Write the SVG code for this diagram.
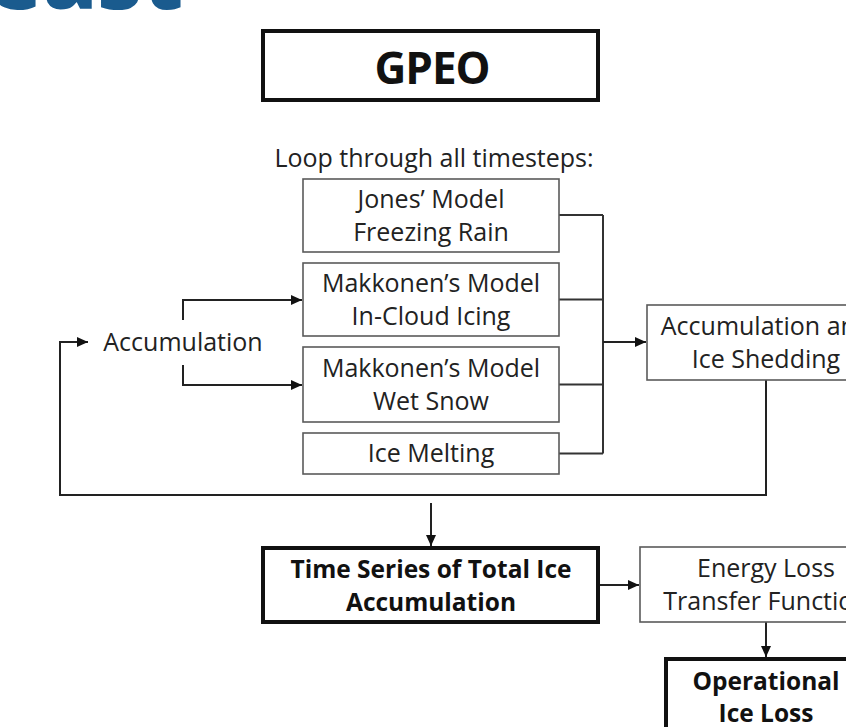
<svg xmlns="http://www.w3.org/2000/svg" width="846" height="727" viewBox="0 0 846 727">
<style>
  .t{font-family:"Open Sans","Liberation Sans",sans-serif;font-size:25px;fill:#222;text-anchor:middle}
  .b{font-weight:bold;fill:#111;font-size:24.5px}
  .box{fill:#fff;stroke:#5a5a5a;stroke-width:1.6}
  .thick{fill:#fff;stroke:#111;stroke-width:4}
  .c{fill:none;stroke:#333;stroke-width:2}
  .ca{fill:none;stroke:#222;stroke-width:2;marker-end:url(#ah)}
</style>
<defs>
  <marker id="ah" markerUnits="userSpaceOnUse" markerWidth="12" markerHeight="10" refX="11" refY="5" orient="auto">
    <path d="M0,0 L11,5 L0,10 Z" fill="#111"/>
  </marker>
</defs>
<rect width="846" height="727" fill="#fff"/>
<text x="-12" y="9" style="font-family:'Open Sans','Liberation Sans',sans-serif;font-weight:800;font-size:88px;fill:#1a5b8e">east</text>

<g id="connectors">
  <path class="c" d="M559,215 H603 M559,299.5 H603 M559,384.5 H603 M559,453.5 H603 M603,215 V453.5"/>
  <path class="ca" d="M603,342 H646"/>
  <path class="ca" d="M766,380 V495 H60 V342 H88"/>
  <path class="ca" d="M183,320 V300 H302"/>
  <path class="ca" d="M183,365 V385 H302"/>
  <path class="ca" d="M431,503 V546"/>
  <path class="ca" d="M598,585 H639"/>
  <path class="ca" d="M766,622 V657"/>
</g>

<g id="gpeo">
  <rect class="thick" x="263" y="31" width="335" height="69" stroke-width="3.5"/>
  <text class="t b" x="432" y="84" style="font-size:44px;letter-spacing:-1px">GPEO</text>
</g>
<g id="loop-label">
  <text class="t" x="434" y="167">Loop through all timesteps:</text>
</g>
<g id="jones">
  <rect class="box" x="303" y="179" width="256" height="73"/>
  <text class="t" x="431" y="208">Jones’ Model</text>
  <text class="t" x="431" y="241">Freezing Rain</text>
</g>
<g id="makkonen-cloud">
  <rect class="box" x="303" y="263" width="256" height="73"/>
  <text class="t" x="431" y="292">Makkonen’s Model</text>
  <text class="t" x="431" y="325">In-Cloud Icing</text>
</g>
<g id="makkonen-snow">
  <rect class="box" x="303" y="347" width="256" height="75"/>
  <text class="t" x="431" y="377">Makkonen’s Model</text>
  <text class="t" x="431" y="410">Wet Snow</text>
</g>
<g id="ice-melting">
  <rect class="box" x="303" y="433" width="256" height="41"/>
  <text class="t" x="431" y="462">Ice Melting</text>
</g>
<g id="accumulation">
  <text class="t" x="183" y="351">Accumulation</text>
</g>
<g id="acc-shedding">
  <rect class="box" x="647" y="305" width="238" height="75"/>
  <text class="t" x="766" y="335">Accumulation and</text>
  <text class="t" x="766" y="368">Ice Shedding</text>
</g>
<g id="time-series">
  <rect class="thick" x="263" y="548" width="335" height="74"/>
  <text class="t b" x="431" y="578">Time Series of Total Ice</text>
  <text class="t b" x="431" y="611">Accumulation</text>
</g>
<g id="energy-loss">
  <rect class="box" x="640" y="547" width="252" height="75"/>
  <text class="t" x="766" y="577">Energy Loss</text>
  <text class="t" x="766" y="610">Transfer Function</text>
</g>
<g id="operational">
  <rect class="thick" x="666" y="659" width="200" height="90"/>
  <text class="t b" x="766" y="690">Operational</text>
  <text class="t b" x="766" y="722">Ice Loss</text>
</g>
</svg>
